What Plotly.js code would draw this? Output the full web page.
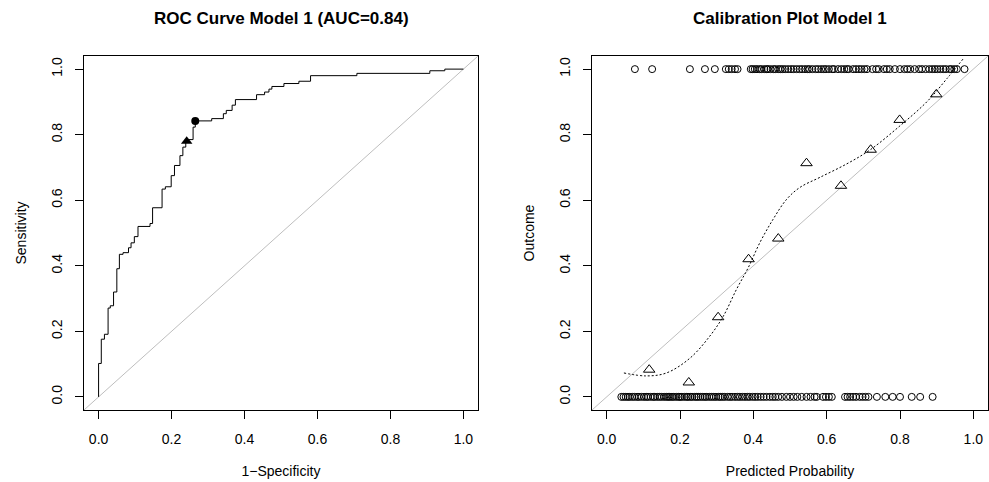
<!DOCTYPE html>
<html>
<head>
<meta charset="utf-8">
<script src="https://cdn.plot.ly/plotly-3.0.1.min.js"></script>
<style>html,body{margin:0;padding:0;background:#fff;}#chart{width:989px;height:482px;}</style>
</head>
<body>
<div id="chart"></div>
<script>
// ROC curve step vertices (vertical move first, then horizontal)
var rocFpr = [0, 0.0074, 0.016, 0.026, 0.032, 0.041, 0.050, 0.057, 0.067, 0.082, 0.089, 0.098, 0.108, 0.141, 0.148, 0.174, 0.183, 0.199, 0.208, 0.223, 0.231, 0.239, 0.259, 0.265, 0.310, 0.342, 0.350, 0.366, 0.375, 0.433, 0.455, 0.467, 0.475, 0.508, 0.549, 0.581, 0.708, 0.908, 0.949, 1.0];
var rocTpr = [0, 0.102, 0.176, 0.191, 0.271, 0.278, 0.320, 0.391, 0.435, 0.440, 0.455, 0.470, 0.489, 0.520, 0.529, 0.577, 0.634, 0.641, 0.675, 0.706, 0.736, 0.762, 0.785, 0.823, 0.842, 0.849, 0.864, 0.874, 0.890, 0.907, 0.922, 0.930, 0.939, 0.947, 0.956, 0.963, 0.980, 0.987, 0.995, 1.0];
var rocTriangle = {fpr: [0.2415], tpr: [0.780]};
var rocCircle = {fpr: [0.265], tpr: [0.842]};

// Calibration plot
var predPos = [0.077, 0.124, 0.227, 0.268, 0.295, 0.325, 0.333, 0.341, 0.350, 0.357, 0.393, 0.398, 0.404, 0.410, 0.417, 0.422, 0.430, 0.436, 0.440, 0.447, 0.455, 0.460, 0.468, 0.474, 0.480, 0.487, 0.495, 0.503, 0.510, 0.518, 0.526, 0.533, 0.541, 0.548, 0.553, 0.561, 0.570, 0.577, 0.585, 0.592, 0.598, 0.606, 0.615, 0.620, 0.631, 0.640, 0.648, 0.655, 0.660, 0.672, 0.680, 0.688, 0.695, 0.703, 0.710, 0.725, 0.735, 0.742, 0.756, 0.764, 0.772, 0.786, 0.800, 0.812, 0.820, 0.828, 0.840, 0.852, 0.860, 0.870, 0.880, 0.888, 0.895, 0.902, 0.910, 0.918, 0.925, 0.935, 0.940, 0.948, 0.955, 0.976];
var predNeg = [0.040, 0.046, 0.052, 0.058, 0.063, 0.070, 0.076, 0.083, 0.088, 0.095, 0.102, 0.108, 0.113, 0.120, 0.127, 0.131, 0.138, 0.144, 0.150, 0.157, 0.163, 0.168, 0.172, 0.178, 0.183, 0.190, 0.196, 0.200, 0.205, 0.212, 0.218, 0.222, 0.228, 0.233, 0.240, 0.245, 0.250, 0.256, 0.262, 0.268, 0.273, 0.280, 0.286, 0.292, 0.298, 0.305, 0.310, 0.316, 0.322, 0.330, 0.336, 0.342, 0.350, 0.357, 0.363, 0.370, 0.377, 0.384, 0.390, 0.398, 0.405, 0.412, 0.420, 0.428, 0.436, 0.445, 0.453, 0.460, 0.468, 0.478, 0.490, 0.500, 0.510, 0.520, 0.532, 0.545, 0.556, 0.567, 0.573, 0.590, 0.598, 0.606, 0.614, 0.650, 0.657, 0.664, 0.672, 0.680, 0.690, 0.698, 0.706, 0.714, 0.737, 0.760, 0.780, 0.800, 0.832, 0.855, 0.889];
var groupPred = [0.116, 0.224, 0.304, 0.387, 0.468, 0.545, 0.639, 0.720, 0.799, 0.899];
var groupObs = [0.083, 0.044, 0.243, 0.420, 0.483, 0.713, 0.644, 0.754, 0.845, 0.923];
var smoothX = [0.047, 0.108, 0.163, 0.227, 0.281, 0.318, 0.354, 0.386, 0.418, 0.454, 0.491, 0.527, 0.582, 0.655, 0.719, 0.801, 0.873, 0.928, 0.975];
var smoothY = [0.073, 0.064, 0.073, 0.118, 0.185, 0.246, 0.328, 0.394, 0.471, 0.542, 0.603, 0.639, 0.670, 0.711, 0.754, 0.828, 0.900, 0.971, 1.035];
var diag = [-0.04, 1.04];
var ticks = [0, 0.2, 0.4, 0.6, 0.8, 1.0];
var tickText = ['0.0', '0.2', '0.4', '0.6', '0.8', '1.0'];

var F = 'Liberation Sans, Arial, Helvetica, sans-serif';
function ones(a, v) { return a.map(function () { return v; }); }

var traces = [
  {x: diag, y: diag, xaxis: 'x', yaxis: 'y', mode: 'lines', line: {color: '#bebebe', width: 1}, hoverinfo: 'skip'},
  {x: rocFpr, y: rocTpr, xaxis: 'x', yaxis: 'y', mode: 'lines', line: {color: '#000', width: 1, shape: 'vh'}, hoverinfo: 'skip'},
  {x: rocTriangle.fpr, y: rocTriangle.tpr, xaxis: 'x', yaxis: 'y', mode: 'markers', marker: {symbol: 'triangle-up', size: 10, color: '#000'}, hoverinfo: 'skip'},
  {x: rocCircle.fpr, y: rocCircle.tpr, xaxis: 'x', yaxis: 'y', mode: 'markers', marker: {symbol: 'circle', size: 8, color: '#000'}, hoverinfo: 'skip'},

  {x: diag, y: diag, xaxis: 'x2', yaxis: 'y2', mode: 'lines', line: {color: '#bebebe', width: 1}, hoverinfo: 'skip'},
  {x: predPos, y: ones(predPos, 1), xaxis: 'x2', yaxis: 'y2', mode: 'markers', marker: {symbol: 'circle-open', size: 7, color: '#000', line: {width: 1, color: '#000'}}, hoverinfo: 'skip'},
  {x: predNeg, y: ones(predNeg, 0), xaxis: 'x2', yaxis: 'y2', mode: 'markers', marker: {symbol: 'circle-open', size: 7, color: '#000', line: {width: 1, color: '#000'}}, hoverinfo: 'skip'},
  {x: smoothX, y: smoothY, xaxis: 'x2', yaxis: 'y2', mode: 'lines', line: {color: '#000', width: 1, dash: '2px,2px', shape: 'spline'}, hoverinfo: 'skip'},
  {x: groupPred, y: groupObs, xaxis: 'x2', yaxis: 'y2', mode: 'markers', marker: {symbol: 'triangle-up-open', size: 10, color: '#000', line: {width: 1, color: '#000'}}, hoverinfo: 'skip'}
];

function xa(domain, title) {
  return {domain: domain, range: [-0.04, 1.04], showgrid: false, zeroline: false,
    showline: true, mirror: true, linecolor: '#000', linewidth: 1,
    ticks: 'outside', ticklen: 8, tickcolor: '#000', tickwidth: 1,
    tickvals: ticks, ticktext: tickText, ticklabelstandoff: 8,
    tickfont: {family: F, size: 14, color: '#000'},
    title: {text: title, font: {family: F, size: 14, color: '#000'}, standoff: 20}};
}
function ya(domain, title, anchor) {
  return {domain: domain, range: [-0.04, 1.04], showgrid: false, zeroline: false, anchor: anchor,
    showline: true, mirror: true, linecolor: '#000', linewidth: 1,
    ticks: 'outside', ticklen: 8, tickcolor: '#000', tickwidth: 1,
    tickvals: ticks, ticktext: tickText, tickangle: -90, ticklabelstandoff: 7,
    tickfont: {family: F, size: 14, color: '#000'},
    title: {text: title, font: {family: F, size: 14, color: '#000'}, standoff: 19}};
}

var yd = [72 / 482, 426 / 482];
var layout = {
  width: 989, height: 482, margin: {l: 0, r: 0, t: 0, b: 0},
  paper_bgcolor: '#fff', plot_bgcolor: '#fff', showlegend: false,
  xaxis: Object.assign(xa([84 / 989, 478 / 989], '1\u2212Specificity'), {anchor: 'y'}),
  yaxis: ya(yd, 'Sensitivity', 'x'),
  xaxis2: Object.assign(xa([592 / 989, 988 / 989], 'Predicted Probability'), {anchor: 'y2'}),
  yaxis2: ya(yd, 'Outcome', 'x2'),
  annotations: [
    {text: '<b>ROC Curve Model 1 (AUC=0.84)</b>', xref: 'paper', yref: 'paper', x: 281 / 989, y: 1 - 19 / 482, xanchor: 'center', yanchor: 'middle', showarrow: false, font: {family: F, size: 17, color: '#000'}},
    {text: '<b>Calibration Plot Model 1</b>', xref: 'paper', yref: 'paper', x: 790 / 989, y: 1 - 19 / 482, xanchor: 'center', yanchor: 'middle', showarrow: false, font: {family: F, size: 17, color: '#000'}}
  ]
};
Plotly.newPlot('chart', traces, layout, {staticPlot: true, displayModeBar: false});
</script>
</body>
</html>
